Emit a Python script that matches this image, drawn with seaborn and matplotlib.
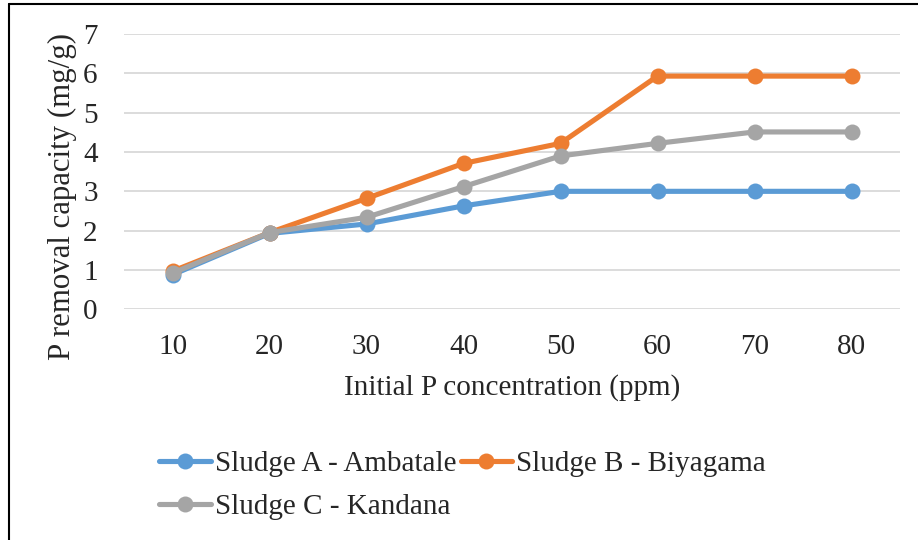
import pandas as pd
import matplotlib
matplotlib.use('Agg')
import matplotlib.pyplot as plt
from matplotlib.lines import Line2D
import seaborn as sns

# --- Data ---
concentration = [10, 20, 30, 40, 50, 60, 70, 80]
sludge_a = [0.88, 1.93, 2.17, 2.63, 3.00, 3.00, 3.00, 3.00]
sludge_b = [0.97, 1.95, 2.82, 3.71, 4.22, 5.93, 5.93, 5.93]
sludge_c = [0.92, 1.95, 2.34, 3.12, 3.90, 4.22, 4.51, 4.51]
series_names = ['Sludge A - Ambatale', 'Sludge B - Biyagama', 'Sludge C - Kandana']
colors = ['#5B9BD5', '#ED7D31', '#A5A5A5']

df = pd.concat([
    pd.DataFrame({'conc': concentration, 'capacity': vals, 'sludge': name})
    for name, vals in zip(series_names, [sludge_a, sludge_b, sludge_c])
])

sns.set_style('white')
plt.rcParams['font.family'] = ['Liberation Serif', 'DejaVu Serif']
FS = 21

fig = plt.figure(figsize=(9.18, 5.4), dpi=100)
ax = fig.add_axes([0.1351, 0.4272, 0.8453, 0.5098])

sns.lineplot(data=df, x='conc', y='capacity', hue='sludge', palette=colors,
             marker='o', markersize=11.5, markeredgewidth=0, linewidth=3.7,
             legend=False, ax=ax, zorder=3)

ax.set_xlim(5, 85)
ax.set_ylim(0, 7)
ax.set_xticks(concentration)
ax.set_yticks(range(0, 8))
ax.grid(axis='y', color='#D9D9D9', linewidth=1.3)
ax.grid(axis='x', visible=False)
for s in ax.spines.values():
    s.set_visible(False)
ax.tick_params(axis='both', length=0, labelsize=FS)
ax.tick_params(axis='y', pad=19)
ax.tick_params(axis='x', pad=18)
ax.set_xlabel('Initial P concentration (ppm)', fontsize=FS, labelpad=10)
ax.set_ylabel('P removal capacity (mg/g)', fontsize=22.2)
ax.yaxis.set_label_coords(-0.061, 0.41)

# legend filled row by row: A, B on the first row, C on the second
order = [0, 2, 1]
handles = [Line2D([0], [0], color=colors[i], lw=3.7, marker='o', markersize=11.5,
                  markeredgewidth=0) for i in order]
fig.legend(handles, [series_names[i] for i in order], loc='upper left',
           bbox_to_anchor=(0.161, 0.187), ncol=2, frameon=False, fontsize=FS,
           handlelength=1.75, handletextpad=0.15, columnspacing=0.15,
           labelspacing=0.58, borderaxespad=0)

# frame lines on the left and top edge, as in the cropped source image
fig.add_artist(Line2D([9 / 918, 9 / 918], [0, 1 - 4 / 540], color='black', lw=1.5))
fig.add_artist(Line2D([9 / 918, 1], [1 - 4 / 540, 1 - 4 / 540], color='black', lw=1.5))

fig.savefig('out.png', dpi=100)
